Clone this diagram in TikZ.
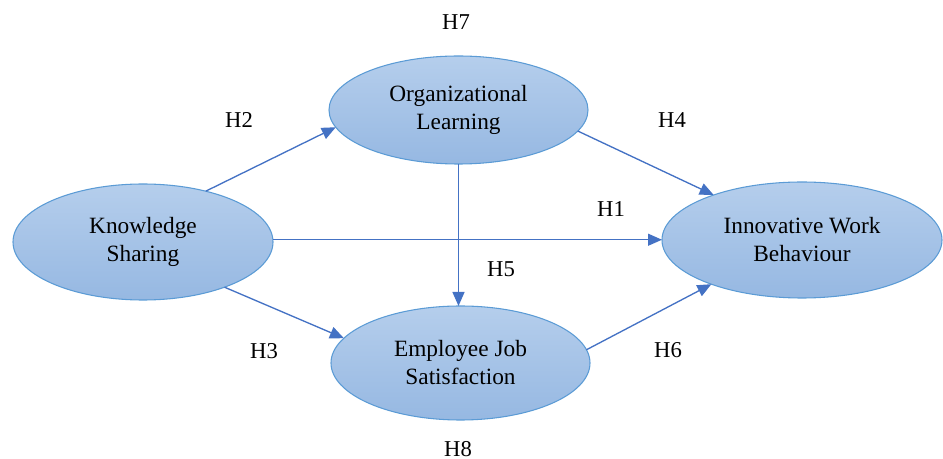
\documentclass[tikz,border=0pt]{standalone}
\usepackage{fontspec}
\setmainfont{Liberation Serif}
\usetikzlibrary{arrows.meta,shapes.geometric}
\definecolor{edgeblue}{HTML}{5B9BD5}
\definecolor{arrowblue}{HTML}{4472C4}
\definecolor{filltop}{HTML}{B5CEEC}
\definecolor{fillbot}{HTML}{96B8E2}
\begin{document}
\begin{tikzpicture}[x=0.75pt,y=-0.75pt,
  construct/.style={ellipse, draw=edgeblue, line width=0.8pt, top color=filltop, bottom color=fillbot,
    inner sep=0pt, outer sep=0pt, align=center, font=\fontsize{17.5}{21}\selectfont},
  hyp/.style={inner sep=0pt, font=\fontsize{17}{20}\selectfont},
  link/.style={draw=arrowblue, line width=1pt, -{Triangle[length=10.5pt,width=9pt]}}]
\useasboundingbox (0,0) rectangle (943,459);

% constructs
\node[construct, minimum width=260*0.75pt, minimum height=116*0.75pt] (ks) at (143,242) {Knowledge\\Sharing};
\node[construct, minimum width=259*0.75pt, minimum height=108*0.75pt] (ol) at (458.5,110) {Organizational\\Learning};
\node[construct, minimum width=259*0.75pt, minimum height=114*0.75pt] (ejs) at (460.5,363) {Employee Job\\Satisfaction};
\node[construct, minimum width=280*0.75pt, minimum height=116*0.75pt] (iwb) at (802,240) {Innovative Work\\Behaviour};

% hypothesis labels
\node[hyp] (h7) at (456,22) {H7};
\node[hyp] (h2) at (239,120) {H2};
\node[hyp] (h4) at (672,120) {H4};
\node[hyp] (h1) at (611,209) {H1};
\node[hyp] (h5) at (501,269) {H5};
\node[hyp] (h3) at (264,351) {H3};
\node[hyp] (h6) at (668,350) {H6};
\node[hyp] (h8) at (458,449) {H8};

% paths
\draw[link] (ks.39.4) -- (ol.188.5);
\draw[link] (ks.1.7) -- (ks.1.7 -| iwb.west);
\draw[link] (ks.-29.4) -- (ejs.168.5);
\draw[link] (ol.south) -- (ol.south |- ejs.north);
\draw[link] (ol.-10) -- (iwb.153);
\draw[link] (ejs.6) -- (iwb.206.6);
\end{tikzpicture}
\end{document}
